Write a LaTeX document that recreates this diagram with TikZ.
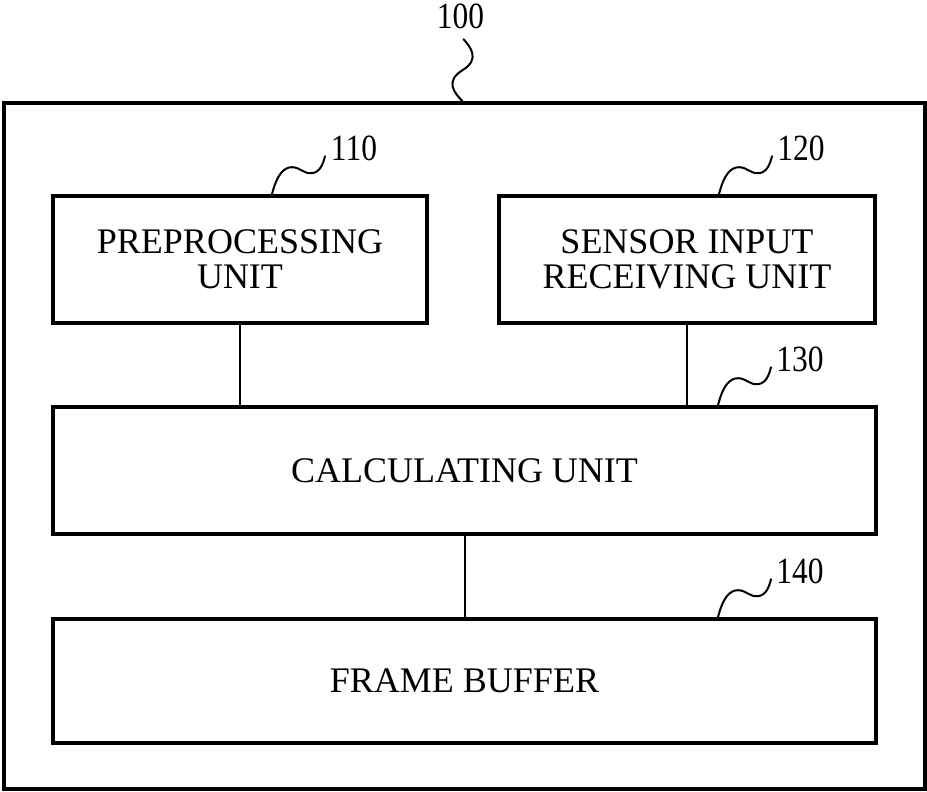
\documentclass[tikz,border=0pt]{standalone}
\usepackage{fontspec}
\setmainfont{Liberation Serif}
\usetikzlibrary{positioning}
\tikzset{
  unit/.style={draw, line width=1.8pt, align=center, inner sep=0pt, font=\fontsize{18}{17.5}\selectfont},
  tag/.style={anchor=base, inner sep=0pt, xscale=0.85, font=\fontsize{18.5}{20}\selectfont},
  wire/.style={line width=1pt},
  lead/.style={line width=1pt, line cap=round},
}

\begin{document}
\begin{tikzpicture}[x=0.5pt, y=-0.5pt]
  \useasboundingbox (0,0) rectangle (927,792);
  % outer device
  \node[draw, line width=1.8pt, minimum width=460.5pt, minimum height=343pt] (frame) at (464.5,446) {};
  % units
  \node[unit, minimum width=187pt, minimum height=63.5pt] (pre) at (240,259.5) {PREPROCESSING\\UNIT};
  \node[unit, minimum width=188pt, minimum height=63.5pt] (sens) at (687,259.5) {SENSOR INPUT\\RECEIVING UNIT};
  \node[unit, minimum width=411.5pt, minimum height=63.5pt] (calc) at (464.5,470.5) {CALCULATING UNIT};
  \node[unit, minimum width=411.5pt, minimum height=62pt] (fb) at (464.5,681) {FRAME BUFFER};
  \draw[wire] (pre.south) -- (pre.south |- calc.north);
  \draw[wire] (sens.south) -- (sens.south |- calc.north);
  \draw[wire] (calc.south) -- (fb.north);
  % reference numerals
  \coordinate (w110) at ([xshift=16pt]pre.north);
  \coordinate (w120) at ([xshift=16pt]sens.north);
  \coordinate (w130) at ([xshift=126.75pt]calc.north);
  \coordinate (w140) at ([xshift=126.75pt]fb.north);
  \foreach \w/\num in {w110/110, w120/120, w130/130, w140/140} {
    \draw[lead, shift={(\w)}] (0,0) .. controls (5,-20) and (12,-27) .. (20,-27)
      .. controls (28,-27) and (32,-20) .. (40,-21)
      .. controls (48,-22) and (51,-30) .. (53,-38);
    \node[tag] (n\num) at ([xshift=41pt,yshift=17pt]\w) {\num};
  }
  \coordinate (w100) at ([xshift=-1pt]frame.north);
  \draw[lead, shift={(w100)}] (0,0) .. controls (-8,-8) and (-18,-20) .. (0,-31)
    .. controls (18,-42) and (8,-54) .. (1,-62);
  \node[tag] (n100) at ([xshift=-1pt,yshift=36.5pt]w100) {100};
\end{tikzpicture}
\end{document}
